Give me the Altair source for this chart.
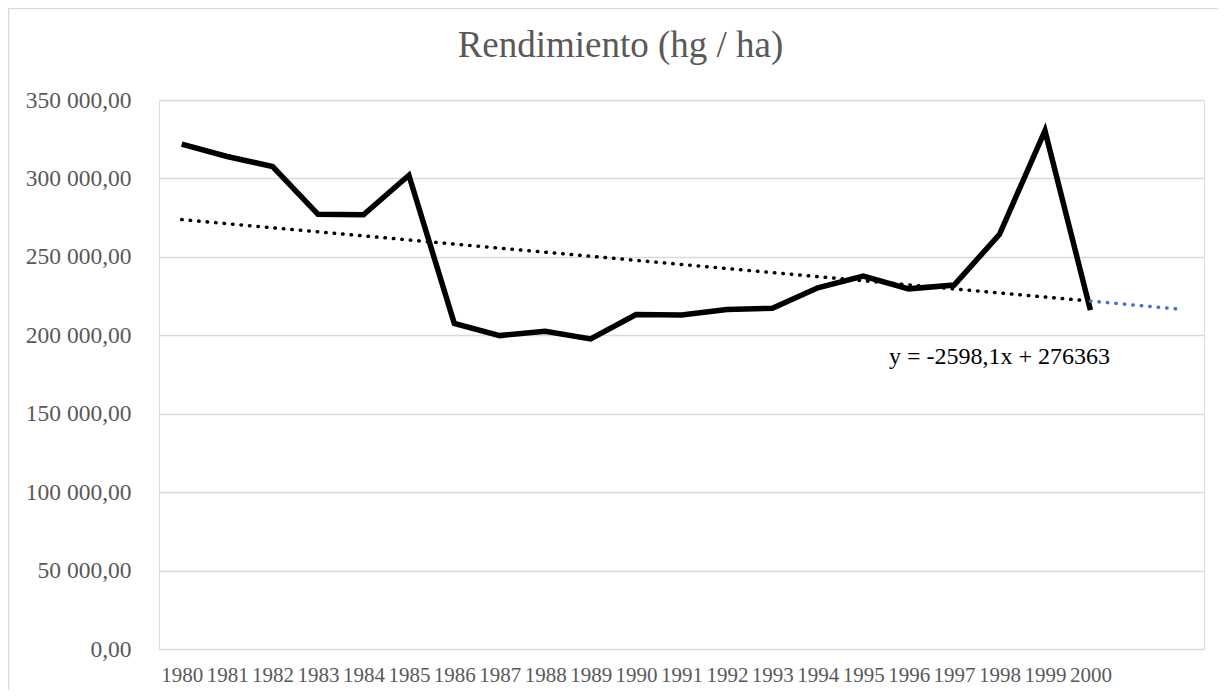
import altair as alt
import pandas as pd

years = list(range(1980, 2001))
rendimiento = [321900, 314000, 307600, 277100, 276800, 302000, 207500, 199800,
               202600, 197700, 213200, 213000, 216400, 217300, 230300, 237700,
               229600, 232000, 264400, 330400, 216000]
y_ticks = [0, 50000, 100000, 150000, 200000, 250000, 300000, 350000]

# Excel linear trend line shown on the chart: y = -2598,1x + 276363 (x = 1, 2, ...)
trend_slope = -2598.1
trend_intercept = 276363
forecast_years = [2000, 2001, 2002]
trend_label = "y = -2598,1x + 276363"

FONT = "Liberation Serif"
GREY = "#595959"

df = pd.DataFrame({"year": years, "value": rendimiento})
hist = pd.DataFrame({"year": years,
                     "value": [trend_slope * (i + 1) + trend_intercept for i in range(len(years))]})
fore = pd.DataFrame({"year": forecast_years,
                     "value": [trend_slope * (y - 1979) + trend_intercept for y in forecast_years]})

x_enc = alt.X("year:Q",
              scale=alt.Scale(domain=[1979.5, 2002.5], nice=False, zero=False),
              axis=alt.Axis(values=years, format="d", title=None, grid=False, domain=False,
                            ticks=False, labelFont=FONT, labelFontSize=21, labelColor=GREY,
                            labelPadding=15, labelOverlap=False, labelFlush=False))
y_enc = alt.Y("value:Q",
              scale=alt.Scale(domain=[0, 350000], nice=False),
              axis=alt.Axis(values=y_ticks, format=",.2f", title=None, domain=False,
                            ticks=False, gridColor="#d9d9d9", gridWidth=1.5,
                            labelFont=FONT, labelFontSize=23.5, labelColor=GREY,
                            labelPadding=28))

border = alt.Chart(pd.DataFrame({"k": [0]})).mark_rect(
    fillOpacity=0, stroke="#d9d9d9", strokeWidth=1.5
).encode(x=alt.value(-150.5), x2=alt.value(1300), y=alt.value(-91.5), y2=alt.value(800))

main = alt.Chart(df).mark_line(color="black", strokeWidth=5.5).encode(x=x_enc, y=y_enc)

trend_hist = alt.Chart(hist).mark_line(
    color="black", strokeWidth=3.5, strokeDash=[0.5, 8], strokeCap="round"
).encode(x="year:Q", y="value:Q")

trend_fore = alt.Chart(fore).mark_line(
    color="#4472C4", strokeWidth=3.5, strokeDash=[0.5, 8], strokeCap="round"
).encode(x="year:Q", y="value:Q")

label = alt.Chart(pd.DataFrame({"k": [0]})).mark_text(
    text=trend_label, font=FONT, fontSize=24, color="black", align="center", baseline="middle"
).encode(x=alt.datum(1998), y=alt.datum(186000))

chart = alt.layer(border, main, trend_hist, trend_fore, label).properties(
    width=1045, height=549,
    autosize=alt.AutoSizeParams(type="none"),
    padding={"left": 151, "top": 92, "right": 14, "bottom": 41},
    title=alt.Title("Rendimiento (hg / ha)", font=FONT, fontSize=37, fontWeight="normal",
                    color=GREY, anchor="middle", frame="group", offset=0, dx=-61, dy=57),
).configure_view(stroke=None).configure(
    locale={"number": {"decimal": ",", "thousands": " ", "grouping": [3], "currency": ["", ""]}}
)

chart.save("out.html", embed_options={"renderer": "svg", "actions": False})
